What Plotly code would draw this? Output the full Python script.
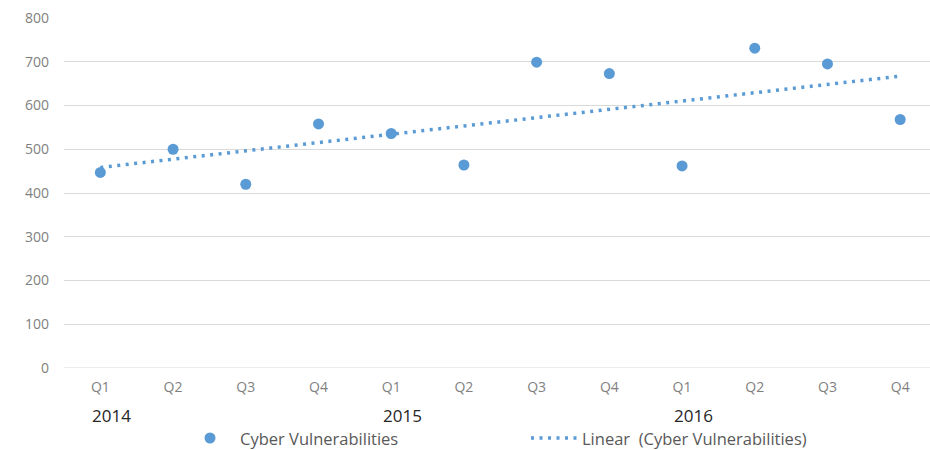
import numpy as np
import plotly.graph_objects as go

quarters = ["Q1", "Q2", "Q3", "Q4", "Q1", "Q2", "Q3", "Q4", "Q1", "Q2", "Q3", "Q4"]
years = ["2014", "2015", "2016"]
year_start_index = [0, 4, 8]
values = [447, 500, 420, 558, 536, 464, 699, 673, 462, 731, 695, 568]
series_name = "Cyber Vulnerabilities"
trend_name = "Linear\u00a0 (Cyber Vulnerabilities)"
y_ticks = [0, 100, 200, 300, 400, 500, 600, 700, 800]

x_idx = np.arange(len(values))
slope, intercept = np.polyfit(x_idx, values, 1)
trend = slope * x_idx + intercept

BLUE = "#5B9BD5"
FONT = "Open Sans"
L, T, W, H = 64, 18, 866, 350  # plot area in page pixels


def px_x(p):
    return (p - L) / W


def px_y(p):
    return (T + H - p) / H


fig = go.Figure()
fig.add_trace(go.Scatter(
    x=x_idx, y=values, mode="markers", name=series_name,
    marker=dict(color=BLUE, size=11), showlegend=False,
))
fig.add_trace(go.Scatter(
    x=x_idx, y=trend, mode="lines", name=trend_name,
    line=dict(color=BLUE, width=3.5, dash="3px,5.5px"), showlegend=False,
))

for yr, i in zip(years, year_start_index):
    fig.add_annotation(
        x=i, y=px_y(415), xref="x", yref="paper", text=yr, showarrow=False,
        xanchor="left", yanchor="middle", xshift=-10,
        font=dict(family=FONT, size=17, color="#262626"),
    )

# legend drawn below the plot
LEG_Y = 438
fig.add_shape(
    type="circle", xref="paper", yref="paper",
    xsizemode="pixel", ysizemode="pixel",
    xanchor=px_x(210), yanchor=px_y(LEG_Y),
    x0=-5.5, x1=5.5, y0=-5.5, y1=5.5,
    fillcolor=BLUE, line=dict(width=0),
)
fig.add_annotation(
    x=px_x(238), y=px_y(LEG_Y), xref="paper", yref="paper", text=series_name,
    showarrow=False, xanchor="left", yanchor="middle",
    font=dict(family=FONT, size=16.5, color="#595959"),
)
fig.add_shape(
    type="line", xref="paper", yref="paper",
    x0=px_x(531), x1=px_x(577), y0=px_y(LEG_Y), y1=px_y(LEG_Y),
    line=dict(color=BLUE, width=3.5, dash="3px,5.5px"),
)
fig.add_annotation(
    x=px_x(580), y=px_y(LEG_Y), xref="paper", yref="paper", text=trend_name,
    showarrow=False, xanchor="left", yanchor="middle",
    font=dict(family=FONT, size=16.5, color="#595959"),
)

fig.update_layout(
    width=930, height=450,
    margin=dict(l=L, r=930 - L - W, t=T, b=450 - T - H, autoexpand=False),
    paper_bgcolor="white", plot_bgcolor="white",
    font=dict(family=FONT, color="#7f7f7f"),
    showlegend=False,
    xaxis=dict(
        range=[-0.5, 11.41], tickmode="array", tickvals=x_idx, ticktext=quarters,
        showgrid=False, zeroline=False, showline=False, ticks="",
        ticklabelstandoff=9,
        tickfont=dict(family=FONT, size=14, color="#7f7f7f"),
        fixedrange=True,
    ),
    yaxis=dict(
        range=[0, 800], tickmode="array", tickvals=y_ticks,
        showgrid=True, gridcolor="#d9d9d9", gridwidth=1,
        zeroline=False, showline=False, ticks="",
        ticklabelstandoff=14,
        tickfont=dict(family=FONT, size=14, color="#7f7f7f"),
        fixedrange=True,
    ),
)
fig.add_hline(y=0, line=dict(color="#d9d9d9", width=1), layer="below")

fig.write_html(
    "out.html",
    config={"displayModeBar": False},
    post_script="document.body.style.margin='0';document.body.style.overflow='hidden';",
)
